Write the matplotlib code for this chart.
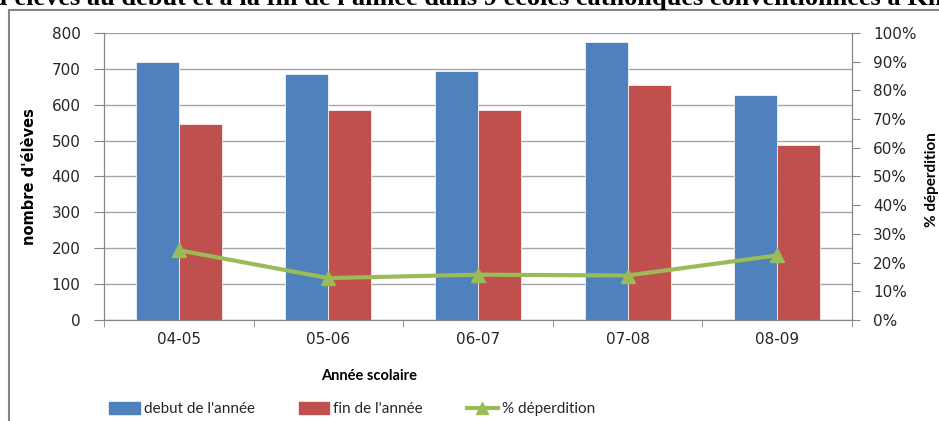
import numpy as np
import matplotlib.pyplot as plt
from matplotlib.patches import Rectangle
from matplotlib.lines import Line2D

# school years and headcounts
annees = ["04-05", "05-06", "06-07", "07-08", "08-09"]
debut = [720, 685, 695, 775, 628]
fin = [545, 585, 585, 655, 487]
deperdition = [24.3, 14.6, 15.8, 15.5, 22.5]

BLUE = "#4f81bd"
RED = "#c0504d"
GREEN = "#9bbb59"
GRID = "#a6a6a6"
TXT = "#262626"
W, H = 939, 421

plt.rcParams["font.family"] = ["DejaVu Sans"]

fig = plt.figure(figsize=(W / 100, H / 100), dpi=100)
ax = fig.add_axes([104 / W, 1 - 320 / H, (852 - 104) / W, (320 - 33) / H])
ax2 = ax.twinx()

x = np.arange(len(annees))
w = 0.287
ax.bar(x - w / 2, debut, w, color=BLUE, edgecolor="white", linewidth=0.5, zorder=2)
ax.bar(x + w / 2, fin, w, color=RED, edgecolor="white", linewidth=0.5, zorder=2)

ax.set_xlim(-0.5, len(annees) - 0.5)
ax.set_ylim(0, 800)
ax.set_yticks(range(0, 801, 100))
ax.yaxis.grid(True, color=GRID, linewidth=1, zorder=0)
ax.set_axisbelow(True)
ax.set_xticks(x)
ax.set_xticklabels(annees, fontsize=11, color=TXT)
ax.set_xticks(np.arange(-0.5, len(annees)), minor=True)
ax.tick_params(axis="x", which="major", length=0, pad=9)
ax.tick_params(axis="x", which="minor", length=5, color="#868686")
ax.tick_params(axis="y", length=7, color="#868686", labelsize=11, labelcolor=TXT, pad=10)
for s in ax.spines.values():
    s.set_color("#868686")
ax.spines["top"].set_visible(False)

ax2.plot(x, deperdition, color=GREEN, linewidth=3, marker="^", markersize=10, zorder=3)
ax2.set_ylim(0, 100)
ax2.set_yticks(range(0, 101, 10))
ax2.set_yticklabels([f"{v}%" for v in range(0, 101, 10)])
ax2.tick_params(axis="y", length=6, color="#868686", labelsize=11, labelcolor=TXT, pad=9)
for s in ax2.spines.values():
    s.set_color("#868686")
ax2.spines["top"].set_visible(False)

ax.set_ylabel("nombre d'élèves", fontsize=10.5, fontweight="bold", color="black", labelpad=10)
ax.set_xlabel("Année scolaire", family="Lato", fontsize=10.5,
              fontweight="bold", color="black")
ax.xaxis.set_label_coords((369 - 104) / (852 - 104), -(369 - 320) / (320 - 33))
fig.text(925 / W, 1 - 180 / H, "% déperdition", rotation=90, fontsize=11,
         family="Lato", fontweight="bold", ha="left", va="center")

# chart frame
fig.patches.append(Rectangle((9 / W, -0.1), 1.2, 1 - 10 / H + 0.1,
                             transform=fig.transFigure, fill=False,
                             edgecolor="#868686", linewidth=1.5))

# title sits above the frame and runs past both edges
titre = ("Evolution du nombre d'élèves au debut et à la fin de l'année "
         "dans 9 écoles catholiques conventionnées à Kinshasa")
tfont = dict(family="Liberation Serif", fontsize=19, fontweight="bold")
renderer = fig.canvas.get_renderer()
probe = fig.text(0, 0, "Evolution du nombre d'", **tfont)
wpref = probe.get_window_extent(renderer).width
probe.remove()
fig.text((15 - wpref) / W, 1 - 5 / H, titre, ha="left", va="baseline", **tfont)

handles = [Rectangle((0, 0), 1, 1, color=BLUE),
           Rectangle((0, 0), 1, 1, color=RED),
           Line2D([], [], color=GREEN, linewidth=3, marker="^", markersize=9)]
fig.legend(handles, ["debut de l'année", "fin de l'année", "% déperdition"],
           loc="center", bbox_to_anchor=(352 / W, 1 - 409 / H), ncol=3,
           frameon=False, prop=dict(family="Lato", size=11),
           columnspacing=2.9, handlelength=2.0, handleheight=0.9,
           handletextpad=0.25, labelcolor=TXT)

fig.savefig("out.png", dpi=100)
